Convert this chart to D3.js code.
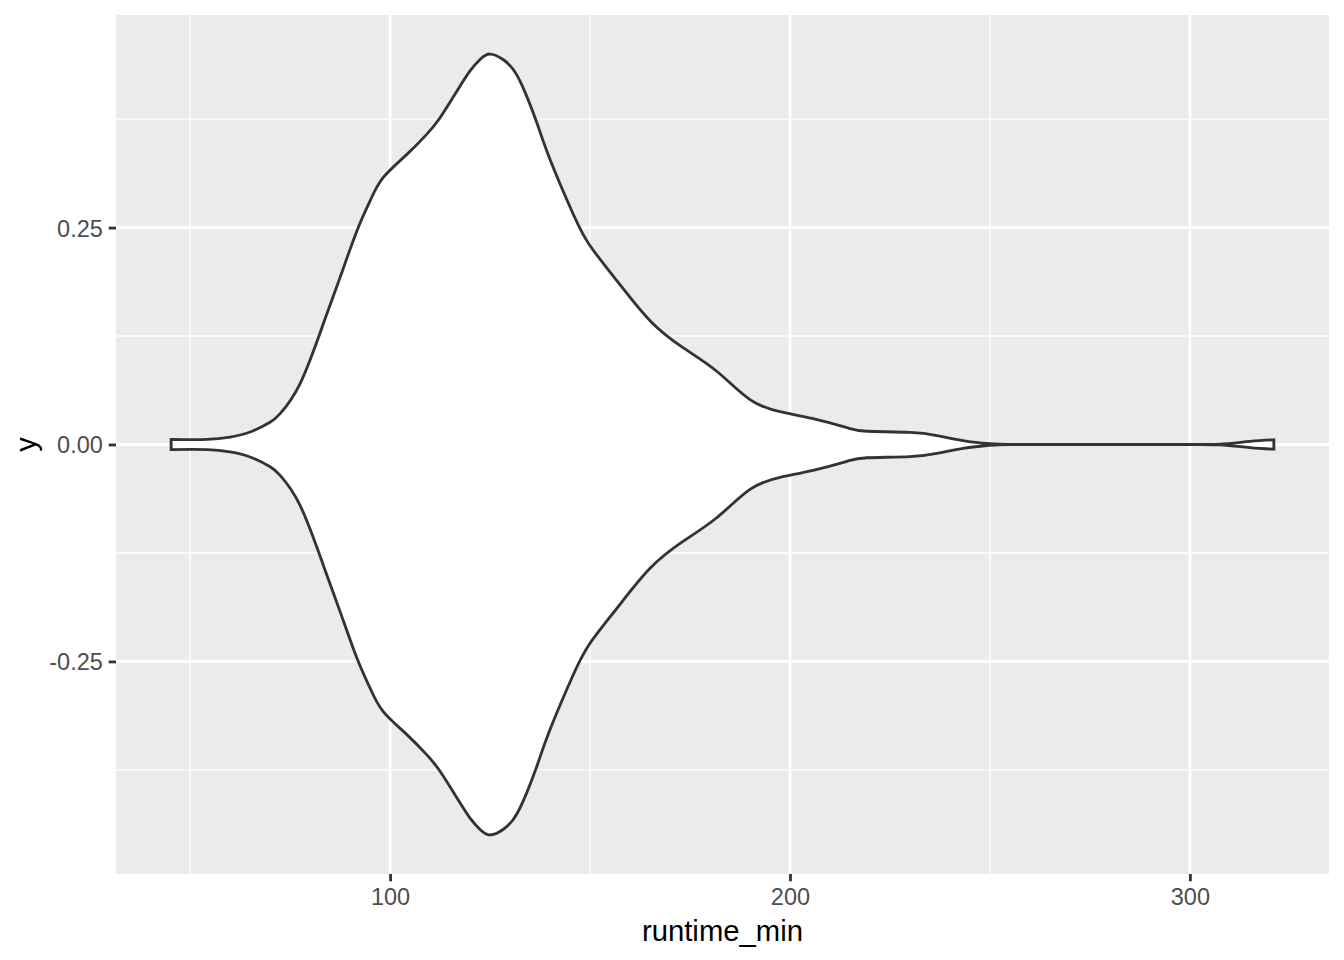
<!DOCTYPE html>
<html>
<head>
<meta charset="utf-8">
<script src="https://cdn.jsdelivr.net/npm/d3@7"></script>
<style>
  html, body { margin: 0; padding: 0; background: #ffffff; }
  svg { display: block; }
  text { font-family: "Liberation Sans", Arial, Helvetica, sans-serif; }
</style>
</head>
<body>
<script>
// Runtime grid (minutes) along the violin and the scaled density (max = 1) at each point
const runtime = [45.25, 54.25, 60, 65, 70, 72.5, 77.5, 83.3, 87.5, 91.7, 95, 98.3,
  104.2, 109.2, 112.5, 116.7, 120, 122.5, 125, 128.25, 130.75, 133.25, 136.7, 140,
  145.75, 150, 156.75, 165, 173.25, 181.75, 190, 197.5, 205.75, 214.25, 219.25, 230,
  236.75, 243.25, 250, 255, 265, 277.5, 290, 300, 307.5, 315, 321];
const density = [0.013, 0.013, 0.019, 0.032, 0.057, 0.079, 0.156, 0.309, 0.428, 0.547, 0.624,
  0.684, 0.743, 0.795, 0.837, 0.905, 0.957, 0.986, 1.0, 0.986, 0.961, 0.914, 0.824, 0.730,
  0.591, 0.509, 0.419, 0.317, 0.248, 0.187, 0.115, 0.084, 0.066, 0.043, 0.034, 0.031,
  0.023, 0.010, 0.002, 0.0, 0.0, 0.0, 0.0, 0.0, 0.001, 0.008, 0.012];

const xMajor = [100, 200, 300];
const xMinor = [50, 150, 250];
const yMajor = [-0.25, 0, 0.25];
const yMinor = [-0.375, -0.125, 0.125, 0.375];
const yTickLabels = ["-0.25", "0.00", "0.25"];
const xTitle = "runtime_min";
const yTitle = "y";

const W = 1344, H = 960;
const panel = { left: 116, top: 15, right: 1329, bottom: 874 };

const xMin = d3.min(runtime), xMax = d3.max(runtime);
const xPad = (xMax - xMin) * 0.05;
const halfWidth = 0.45;
const yPad = halfWidth * 2 * 0.05;

const x = d3.scaleLinear().domain([xMin - xPad, xMax + xPad]).range([panel.left, panel.right]);
const y = d3.scaleLinear().domain([-halfWidth - yPad, halfWidth + yPad]).range([panel.bottom, panel.top]);

const svg = d3.select("body").append("svg").attr("width", W).attr("height", H);

svg.append("rect").attr("x", panel.left).attr("y", panel.top)
  .attr("width", panel.right - panel.left).attr("height", panel.bottom - panel.top)
  .attr("fill", "#EBEBEB");

const grid = svg.append("g");
grid.selectAll(".xminor").data(xMinor).join("line")
  .attr("x1", d => x(d)).attr("x2", d => x(d)).attr("y1", panel.top).attr("y2", panel.bottom)
  .attr("stroke", "#fff").attr("stroke-width", 1.42);
grid.selectAll(".yminor").data(yMinor).join("line")
  .attr("y1", d => y(d)).attr("y2", d => y(d)).attr("x1", panel.left).attr("x2", panel.right)
  .attr("stroke", "#fff").attr("stroke-width", 1.42);
grid.selectAll(".xmajor").data(xMajor).join("line")
  .attr("x1", d => x(d)).attr("x2", d => x(d)).attr("y1", panel.top).attr("y2", panel.bottom)
  .attr("stroke", "#fff").attr("stroke-width", 2.84);
grid.selectAll(".ymajor").data(yMajor).join("line")
  .attr("y1", d => y(d)).attr("y2", d => y(d)).attr("x1", panel.left).attr("x2", panel.right)
  .attr("stroke", "#fff").attr("stroke-width", 2.84);

const pts = runtime.map((r, i) => ({ r, d: density[i] }));
const area = d3.area()
  .x(p => x(p.r))
  .y0(p => y(-p.d * halfWidth))
  .y1(p => y(p.d * halfWidth))
  .curve(d3.curveNatural);

svg.append("path").datum(pts).attr("d", area)
  .attr("fill", "#ffffff").attr("stroke", "#333333").attr("stroke-width", 2.84)
  .attr("stroke-linejoin", "miter");

// Axes
const xAxis = d3.axisBottom(x).tickValues(xMajor).tickSize(7.3).tickPadding(5.9).tickFormat(d3.format("d"));
const gx = svg.append("g").attr("transform", `translate(0,${panel.bottom})`).call(xAxis);
gx.select(".domain").remove();
gx.selectAll(".tick line").attr("stroke", "#333333").attr("stroke-width", 2.84);
gx.selectAll(".tick text").attr("fill", "#4D4D4D").attr("font-size", 23.5).attr("dy", "0.75em");

const yAxis = d3.axisLeft(y).tickValues(yMajor).tickSize(7.3).tickPadding(5.9)
  .tickFormat((d, i) => yTickLabels[i]);
const gy = svg.append("g").attr("transform", `translate(${panel.left},0)`).call(yAxis);
gy.select(".domain").remove();
gy.selectAll(".tick line").attr("stroke", "#333333").attr("stroke-width", 2.84);
gy.selectAll(".tick text").attr("fill", "#4D4D4D").attr("font-size", 23.5).attr("dy", "0.36em");

svg.append("text").attr("x", (panel.left + panel.right) / 2).attr("y", 941)
  .attr("text-anchor", "middle").attr("font-size", 29.3).attr("fill", "#000").text(xTitle);
svg.append("text").attr("transform", `translate(36,${(panel.top + panel.bottom) / 2}) rotate(-90)`)
  .attr("text-anchor", "middle").attr("font-size", 29.3).attr("fill", "#000").text(yTitle);
</script>
</body>
</html>
